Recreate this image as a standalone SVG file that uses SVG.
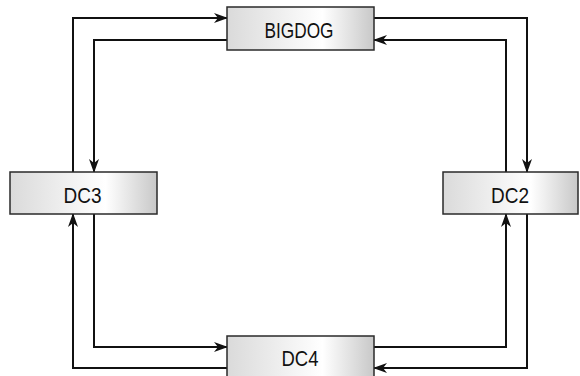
<svg xmlns="http://www.w3.org/2000/svg" width="580" height="376" viewBox="0 0 580 376">
<defs>
<linearGradient id="g" x1="0" y1="0" x2="1" y2="0">
<stop offset="0" stop-color="#dadada"/>
<stop offset="0.65" stop-color="#ffffff"/>
<stop offset="1" stop-color="#c8c8c8"/>
</linearGradient>
<marker id="ah" markerWidth="14" markerHeight="10" refX="13" refY="5" orient="auto" markerUnits="userSpaceOnUse">
<path d="M0,0 L14,5 L0,10 L4,5 Z" fill="#111"/>
</marker>
<style>
.box{fill:url(#g);stroke:#2a2a2a;stroke-width:1.5}
.lbl{font-family:"Liberation Sans",Arial,sans-serif;font-size:22px;fill:#111;text-anchor:middle}
.c{fill:none;stroke:#111;stroke-width:2}
.a{marker-end:url(#ah)}
</style>
</defs>
<g id="connectors">
<path class="c a" d="M73,172 V18 H227"/>
<path class="c a" d="M374,18 H527 V172"/>
<path class="c a" d="M527,214 V368 H374"/>
<path class="c a" d="M227,368 H73 V214"/>
<path class="c a" d="M227,40 H94 V172"/>
<path class="c a" d="M94,214 V347 H227"/>
<path class="c a" d="M374,347 H506 V214"/>
<path class="c a" d="M506,172 V40 H374"/>
</g>
<g id="bigdog">
<rect class="box" x="227" y="7" width="147" height="43"/>
<text class="lbl" x="299" y="37.5" textLength="69" lengthAdjust="spacingAndGlyphs">BIGDOG</text>
</g>
<g id="dc3">
<rect class="box" x="10" y="172" width="147" height="42"/>
<text class="lbl" x="82.5" y="202.5" textLength="38" lengthAdjust="spacingAndGlyphs">DC3</text>
</g>
<g id="dc2">
<rect class="box" x="443" y="172" width="135" height="42"/>
<text class="lbl" x="510" y="202.5" textLength="38" lengthAdjust="spacingAndGlyphs">DC2</text>
</g>
<g id="dc4">
<rect class="box" x="227" y="336" width="147" height="44"/>
<text class="lbl" x="300" y="366" textLength="37" lengthAdjust="spacingAndGlyphs">DC4</text>
</g>
</svg>
